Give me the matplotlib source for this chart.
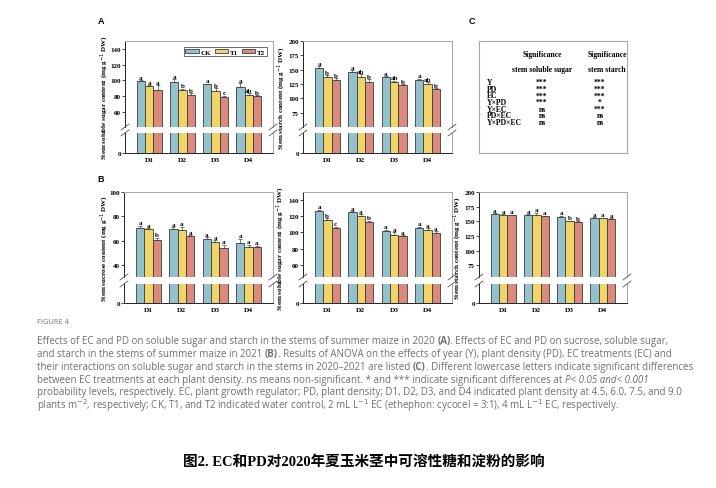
import numpy as np
import matplotlib
matplotlib.use('Agg')
import matplotlib.pyplot as plt
from matplotlib.lines import Line2D

W, H = 716, 489

densities = ['D1', 'D2', 'D3', 'D4']
treatments = ['CK', 'T1', 'T2']
colors = ['#93c1cc', '#f0d468', '#d98a7c']

# rows: CK, T1, T2 ; columns: D1..D4
a_sugar = [[99.5, 98.5, 95.0, 91.5], [93.0, 88.5, 87.0, 82.0], [88.0, 82.0, 79.5, 80.5]]
a_sugar_err = [[1.0, 3.0, 1.0, 5.0], [1.0, 1.0, 3.0, 2.0], [6.0, 2.0, 1.0, 1.0]]
a_sugar_let = [['a', 'a', 'a', 'a'], ['a', 'b', 'b', 'ab'], ['a', 'b', 'c', 'b']]

a_starch = [[153.0, 146.0, 136.5, 132.5], [137.5, 137.5, 129.0, 125.0], [132.0, 128.0, 123.5, 116.5]]
a_starch_err = [[3.0, 3.0, 2.0, 2.0], [3.0, 5.0, 2.0, 3.0], [3.0, 5.0, 1.5, 1.5]]
a_starch_let = [['a', 'a', 'a', 'a'], ['b', 'ab', 'ab', 'ab'], ['b', 'b', 'b', 'b']]

b_sucrose = [[70.4, 69.6, 61.1, 58.0], [69.3, 68.5, 58.6, 55.0], [60.8, 63.6, 54.0, 54.8]]
b_sucrose_err = [[2.0, 1.5, 1.5, 3.5], [1.0, 3.0, 1.5, 1.5], [1.5, 1.0, 2.5, 1.0]]
b_sucrose_let = [['a', 'a', 'a', 'a'], ['a', 'a', 'a', 'a'], ['b', 'a', 'a', 'a']]

b_sugar = [[126.0, 124.8, 102.4, 105.2], [116.0, 120.8, 96.4, 103.2], [105.0, 112.4, 95.2, 99.2]]
b_sugar_err = [[2.0, 1.5, 1.0, 2.0], [1.5, 1.5, 4.0, 2.0], [2.0, 2.0, 1.5, 2.5]]
b_sugar_let = [['a', 'a', 'a', 'a'], ['b', 'a', 'a', 'a'], ['c', 'b', 'a', 'a']]

b_starch = [[162.5, 160.5, 158.0, 155.8], [161.0, 160.0, 150.0, 155.2], [160.0, 158.7, 148.3, 153.5]]
b_starch_err = [[1.5, 2.0, 1.5, 1.0], [1.5, 5.0, 1.0, 1.0], [1.0, 1.0, 1.5, 1.5]]
b_starch_let = [['a', 'a', 'a', 'a'], ['a', 'a', 'b', 'a'], ['a', 'a', 'b', 'a']]

anova_terms = ['Y', 'PD', 'EC', 'Y×PD', 'Y×EC', 'PD×EC', 'Y×PD×EC']
anova_sugar = ['***', '***', '***', '***', 'ns', 'ns', 'ns']
anova_starch = ['***', '***', '***', '*', '***', 'ns', 'ns']

SERIF = 'Liberation Serif'
FS = 5.0
GRAY = '#a8a8a8'

fig = plt.figure(figsize=(W / 100, H / 100), dpi=100)


def box(x0, x1, y0, y1):
    return [x0 / W, 1 - y1 / H, (x1 - x0) / W, (y1 - y0) / H]


def fx(x):
    return x / W


def fy(y):
    return 1 - y / H


def brk(x, y, d=4, h=3):
    fig.add_artist(Line2D([fx(x - d), fx(x + d)], [fy(y + h), fy(y - h)],
                          color='#555555', lw=0.6, transform=fig.transFigure))


def panel(x0, x1, top, b_hi, b_lo, bot, vals, errs, lets, ylim, yticks,
          ylabel, lab_x, legend=False):
    up = fig.add_axes(box(x0, x1, top, b_hi))
    lo = fig.add_axes(box(x0, x1, b_lo, bot))
    x = np.arange(len(densities))
    w = 0.25
    for i, t in enumerate(treatments):
        xs = x + (i - 1) * w
        v = np.array(vals[i])
        e = np.array(errs[i])
        for ax in (up, lo):
            ax.bar(xs, v, w, color=colors[i], edgecolor='#3c3c3c',
                   linewidth=0.6, label=t)
        up.errorbar(xs, v, yerr=[np.zeros(4), e], fmt='none', ecolor='#444444',
                    elinewidth=0.5, capsize=1.3, capthick=0.5)
        for xi, vi, ei, li in zip(xs, v, e, lets[i]):
            up.annotate(li, (xi, vi + ei), xytext=(0, 0.3), textcoords='offset points',
                        ha='center', va='bottom', fontsize=FS, fontweight='bold',
                        family=SERIF)
    for ax in (up, lo):
        ax.set_xlim(-0.73, 3.73)
        ax.spines['left'].set_color('#222222')
        ax.spines['right'].set_color(GRAY)
        for s in ax.spines.values():
            s.set_linewidth(0.7)
        ax.tick_params(axis='y', length=2, width=0.5, pad=1, labelsize=FS)
    up.spines['bottom'].set_visible(False)
    up.spines['top'].set_color(GRAY)
    lo.spines['top'].set_visible(False)
    lo.spines['bottom'].set_color('#222222')
    up.set_ylim(*ylim)
    up.set_yticks(yticks)
    up.set_xticks([])
    lo.set_ylim(0, 15)
    lo.set_yticks([0])
    lo.set_xticks(x)
    lo.set_xticklabels(densities, fontsize=FS + 0.3, fontweight='bold', family=SERIF)
    lo.tick_params(axis='x', length=0, pad=3)
    for ax in (up, lo):
        for lb in ax.get_yticklabels():
            lb.set_fontweight('bold')
            lb.set_family(SERIF)
            lb.set_fontsize(FS)
    for xx in (x0, x1):
        brk(xx, b_hi)
        brk(xx, b_lo)
    fig.text(fx(lab_x), fy((top + bot) / 2), ylabel, rotation=90, ha='center',
             va='center', fontsize=FS, fontweight='bold', family=SERIF)
    if legend:
        h, l = up.get_legend_handles_labels()
        lg = up.legend(h, l, loc='upper right', ncol=3,
                       prop={'family': SERIF, 'weight': 'bold', 'size': FS},
                       handlelength=1.9, handleheight=0.6, handletextpad=0.3,
                       columnspacing=0.5, borderpad=0.25, borderaxespad=0.9,
                       fancybox=False, edgecolor='#333333', framealpha=1)
        lg.get_frame().set_linewidth(0.5)
    return up, lo


sug_lab = 'Stem soluble sugar content (mg g$^{-1}$ DW)'
sta_lab = 'Stem starch content (mg g$^{-1}$ DW)'
suc_lab = 'Stem sucrose content (mg g$^{-1}$ DW)'

panel(125, 273, 42, 128, 134, 154, a_sugar, a_sugar_err, a_sugar_let,
      (41, 150), [60, 80, 100, 120, 140], sug_lab, 105, legend=True)
panel(303, 452, 42, 128, 134, 154, a_starch, a_starch_err, a_starch_let,
      (50, 200), [75, 100, 125, 150, 175, 200], sta_lab, 282)
panel(124, 273, 193, 278, 285, 304, b_sucrose, b_sucrose_err, b_sucrose_let,
      (30, 100), [40, 60, 80, 100], suc_lab, 105)
panel(303, 452, 193, 278, 285, 304, b_sugar, b_sugar_err, b_sugar_let,
      (45, 150), [60, 80, 100, 120, 140], sug_lab, 281)
panel(479, 627, 193, 278, 285, 304, b_starch, b_starch_err, b_starch_let,
      (55, 200), [75, 100, 125, 150, 175, 200], sta_lab, 458)

# panel letters
for lt, x, y in [('A', 101, 22), ('B', 101, 180), ('C', 472, 22)]:
    fig.text(fx(x), fy(y), lt, fontsize=6.5, fontweight='bold',
             family='Liberation Sans', ha='center', va='center')

# ANOVA table (C)
tab = fig.add_axes(box(479, 627, 42, 154))
tab.set_xticks([])
tab.set_yticks([])
for s in tab.spines.values():
    s.set_color(GRAY)
    s.set_linewidth(0.8)
tk = dict(fontsize=5.5, fontweight='bold', family=SERIF, va='center')
fig.text(fx(542), fy(55), 'Significance', ha='center', **tk)
fig.text(fx(607), fy(55), 'Significance', ha='center', **tk)
fig.text(fx(542), fy(70), 'stem soluble sugar', ha='center', **tk)
fig.text(fx(607), fy(70), 'stem starch', ha='center', **tk)
for k, (term, s1, s2) in enumerate(zip(anova_terms, anova_sugar, anova_starch)):
    yy = 83 + k * 6.65
    fig.text(fx(487), fy(yy), term, ha='left', **tk)
    fig.text(fx(542), fy(yy), s1, ha='center', **tk)
    fig.text(fx(600), fy(yy), s2, ha='center', **tk)

# caption
renderer = fig.canvas.get_renderer()
CAP = dict(fontsize=7.05, color='#707070', family='Open Sans', va='center')


def seg_width(s, kw):
    t1 = fig.text(0, 0, '|' + s + '|', **kw)
    t2 = fig.text(0, 0, '||', **kw)
    wdt = t1.get_window_extent(renderer).width - t2.get_window_extent(renderer).width
    t1.remove()
    t2.remove()
    return wdt


def rich_line(x, y, parts):
    for s, st in parts:
        kw = dict(CAP)
        if st == 'b':
            kw['fontweight'] = 'bold'
        if st == 'i':
            kw['fontstyle'] = 'italic'
        fig.text(fx(x), fy(y), s, **kw)
        x += seg_width(s, kw)


fig.text(fx(37), fy(323), 'FIGURE 4', fontsize=5.4, color='#777777',
         family='Open Sans', va='center')
cap_lines = [
    [('Effects of EC and PD on soluble sugar and starch in the stems of summer maize in 2020 ', ''),
     ('(A)', 'b'), ('. Effects of EC and PD on sucrose, soluble sugar,', '')],
    [('and starch in the stems of summer maize in 2021 ', ''), ('(B)', 'b'),
     ('. Results of ANOVA on the effects of year (Y), plant density (PD), EC treatments (EC) and', '')],
    [('their interactions on soluble sugar and starch in the stems in 2020\u20132021 are listed ', ''),
     ('(C)', 'b'), ('. Different lowercase letters indicate significant differences', '')],
    [('between EC treatments at each plant density. ns means non-significant. * and *** indicate significant differences at ', ''),
     ('P< 0.05 and< 0.001', 'i')],
    [('probability levels, respectively. EC, plant growth regulator; PD, plant density; D1, D2, D3, and D4 indicated plant density at 4.5, 6.0, 7.5, and 9.0', '')],
    [('plants m$^{-2}$, respectively; CK, T1, and T2 indicated water control, 2 mL L$^{-1}$ EC (ethephon: cycocel = 3:1), 4 mL L$^{-1}$ EC, respectively.', '')],
]
for k, parts in enumerate(cap_lines):
    rich_line(37, 342 + k * 12.7, parts)

fig.text(fx(364), fy(462), '图2. EC和PD对2020年夏玉米茎中可溶性糖和淀粉的影响',
         fontsize=10.5, fontweight='bold', family=[SERIF, 'Noto Sans CJK SC'],
         ha='center', va='center')

fig.savefig('out.png', dpi=100)
